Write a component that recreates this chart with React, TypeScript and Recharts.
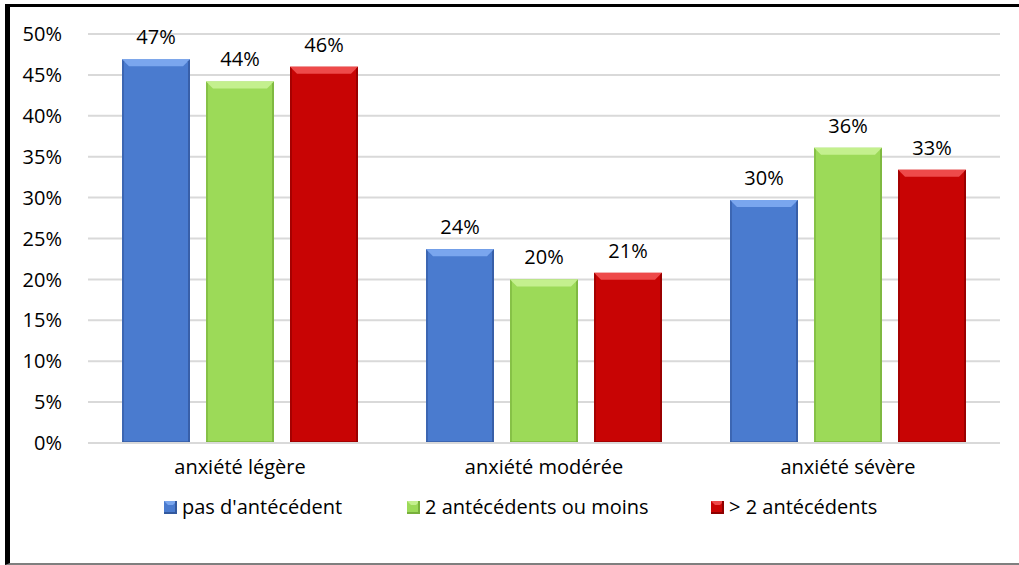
import React from "react";
import { BarChart, Bar, XAxis, YAxis, CartesianGrid, LabelList } from "recharts";

const categories = ["anxiété légère", "anxiété modérée", "anxiété sévère"];
const seriesNames = ["pas d'antécédent", "2 antécédents ou moins", "> 2 antécédents"];
const pasAntecedent = [46.9, 23.7, 29.7];
const deuxOuMoins = [44.2, 20.0, 36.1];
const plusDeDeux = [46.0, 20.8, 33.4];
const yTicks = [0, 5, 10, 15, 20, 25, 30, 35, 40, 45, 50];

const colors = [
  { base: "#4A7BCF", light: "#7AA6EE", dark: "#33599E" },
  { base: "#9CDA58", light: "#C4F08E", dark: "#78B03C" },
  { base: "#C80404", light: "#EE4A4A", dark: "#8E0000" },
];

const data = categories.map((c, i) => ({
  name: c,
  s0: pasAntecedent[i],
  s1: deuxOuMoins[i],
  s2: plusDeDeux[i],
}));

const FONT = "'Open Sans', 'Noto Sans', sans-serif";
const FS = 20;

const makeShape = (ci: number) => (props: any) => {
  const { x, y, width, height } = props;
  if (!width || !height) return <g />;
  const c = colors[ci];
  const b = Math.min(7, height / 2);
  return (
    <g>
      <rect x={x} y={y} width={width} height={height} fill={c.base} />
      <polygon
        points={`${x},${y} ${x + width},${y} ${x + width - b},${y + b} ${x + b},${y + b}`}
        fill={c.light}
      />
      <polygon
        points={`${x},${y} ${x + 2},${y + 2} ${x + 2},${y + height} ${x},${y + height}`}
        fill={c.dark}
        opacity={0.6}
      />
      <polygon
        points={`${x + width},${y} ${x + width - 2},${y + 2} ${x + width - 2},${y + height} ${x + width},${y + height}`}
        fill={c.dark}
        opacity={0.8}
      />
      <rect x={x} y={y + height - 2} width={width} height={2} fill={c.dark} opacity={0.6} />
    </g>
  );
};

const LegendIcon = ({ ci }: { ci: number }) => {
  const c = colors[ci];
  return (
    <svg width={13} height={13} style={{ display: "inline-block", marginRight: 5 }}>
      <rect x={0} y={0} width={13} height={13} fill={c.base} />
      <polygon points="0,0 13,0 9,4 4,4" fill={c.light} />
      <rect x={0} y={11} width={13} height={2} fill={c.dark} />
      <rect x={11} y={0} width={2} height={13} fill={c.dark} />
    </svg>
  );
};

const legendLeft = [164, 407, 711];

const fmt = (v: any) => `${Math.round(Number(v))}%`;

export default function App() {
  return (
    <div style={{ position: "absolute", left: 0, top: 0, width: 1019, height: 565, background: "#fff" }}>
      <div
        style={{
          position: "absolute",
          left: 5,
          top: 4,
          width: 1014,
          height: 561,
          borderLeft: "5px solid #000",
          borderTop: "3px solid #000",
          borderBottom: "2px solid #7f7f7f",
          boxSizing: "border-box",
        }}
      />
      <div style={{ position: "absolute", left: 0, top: 0 }}>
        <BarChart
          width={1019}
          height={565}
          data={data}
          margin={{ top: 34, right: 19, bottom: 92, left: 20 }}
          barCategoryGap={34}
          barGap={16}
        >
          <CartesianGrid horizontal vertical={false} stroke="#d9d9d9" strokeWidth={2} />
          <XAxis
            dataKey="name"
            height={30}
            tickLine={false}
            axisLine={{ stroke: "#d9d9d9", strokeWidth: 2 }}
            tick={{ fill: "#000", fontSize: FS, fontFamily: FONT }}
            tickMargin={11}
          />
          <YAxis
            width={68}
            domain={[0, 50]}
            ticks={yTicks}
            tickFormatter={(v: number) => `${v}%`}
            axisLine={false}
            tickLine={false}
            tick={{ fill: "#000", fontSize: FS, fontFamily: FONT }}
            tickMargin={20}
          />
          {["s0", "s1", "s2"].map((k, i) => (
            <Bar key={k} dataKey={k} name={seriesNames[i]} fill={colors[i].base} shape={makeShape(i)} isAnimationActive={false}>
              <LabelList
                dataKey={k}
                position="top"
                offset={15}
                formatter={fmt}
                style={{ fill: "#000", fontSize: FS, fontFamily: FONT }}
              />
            </Bar>
          ))}
        </BarChart>
      </div>
      {seriesNames.map((n, i) => (
        <div
          key={n}
          style={{
            position: "absolute",
            left: legendLeft[i],
            top: 493,
            display: "flex",
            alignItems: "center",
            fontFamily: FONT,
            fontSize: FS,
            color: "#000",
            whiteSpace: "nowrap",
            lineHeight: "28px",
          }}
        >
          <LegendIcon ci={i} />
          {n}
        </div>
      ))}
    </div>
  );
}
